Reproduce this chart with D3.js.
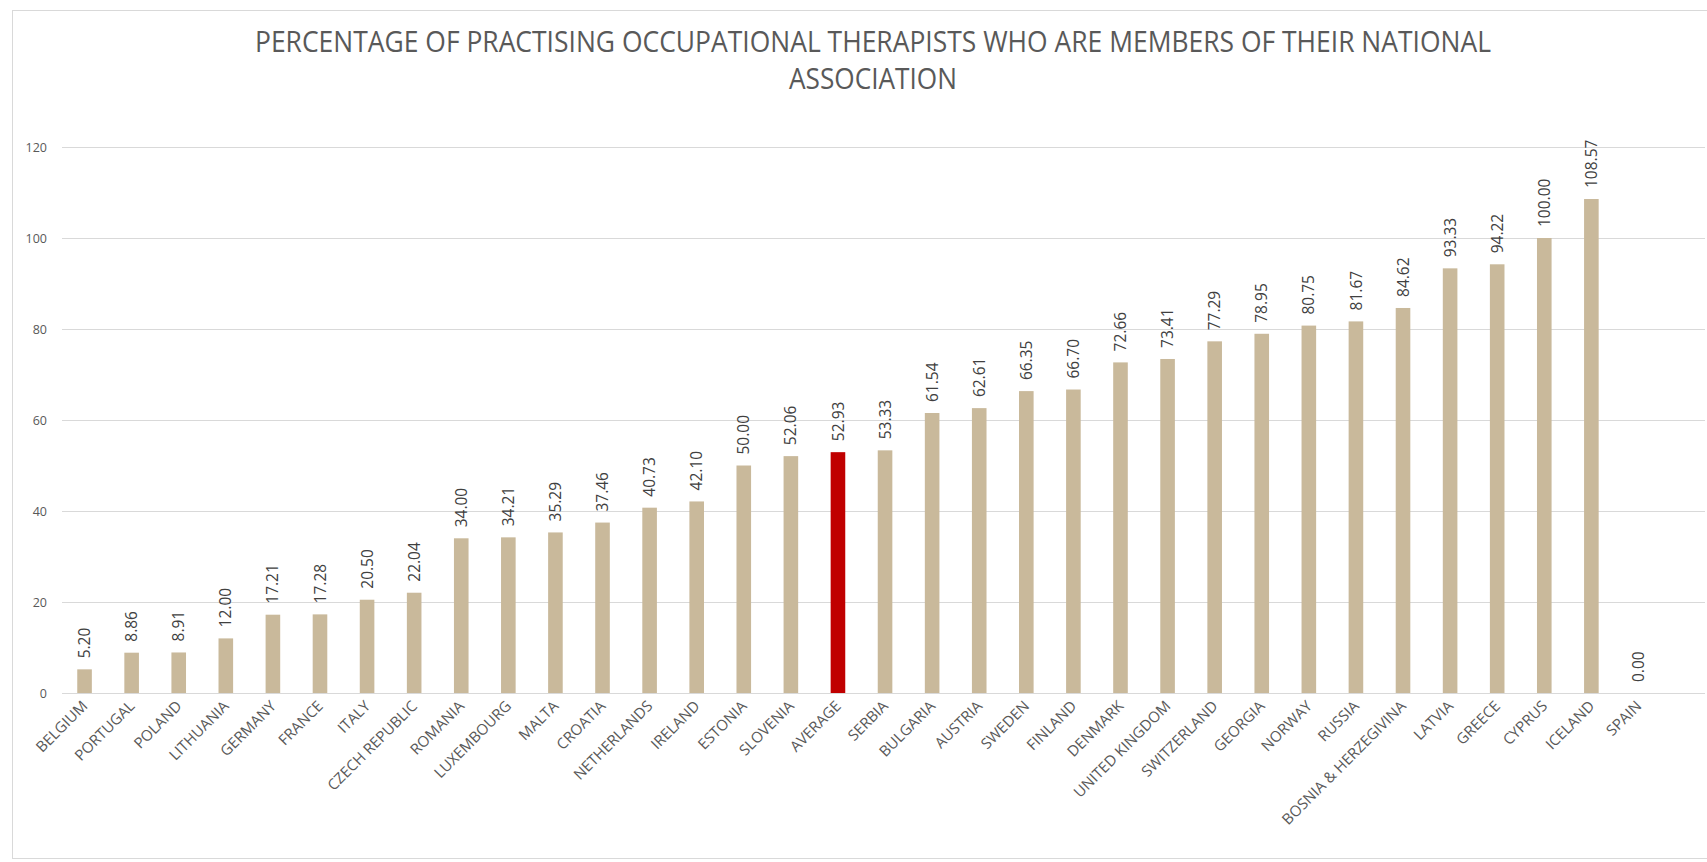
<!DOCTYPE html>
<html>
<head>
<meta charset="utf-8">
<script src="https://cdn.jsdelivr.net/npm/d3@7"></script>
<style>
  body { margin: 0; background: #fff; }
  svg text { font-family: "Open Sans", "Noto Sans", sans-serif; }
</style>
</head>
<body>
<svg id="chart" width="1707" height="862"></svg>
<script>
var countries = ['BELGIUM','PORTUGAL','POLAND','LITHUANIA','GERMANY','FRANCE','ITALY','CZECH REPUBLIC',
  'ROMANIA','LUXEMBOURG','MALTA','CROATIA','NETHERLANDS','IRELAND','ESTONIA','SLOVENIA','AVERAGE',
  'SERBIA','BULGARIA','AUSTRIA','SWEDEN','FINLAND','DENMARK','UNITED KINGDOM','SWITZERLAND','GEORGIA',
  'NORWAY','RUSSIA','BOSNIA & HERZEGIVINA','LATVIA','GREECE','CYPRUS','ICELAND','SPAIN']
var percents = [5.20,8.86,8.91,12.00,17.21,17.28,20.50,22.04,34.00,34.21,35.29,37.46,40.73,42.10,50.00,
  52.06,52.93,53.33,61.54,62.61,66.35,66.70,72.66,73.41,77.29,78.95,80.75,81.67,84.62,93.33,94.22,
  100.00,108.57,0.00]
var yTicks = [0,20,40,60,80,100,120]
var titleLines = ['PERCENTAGE OF PRACTISING OCCUPATIONAL THERAPISTS WHO ARE MEMBERS OF THEIR NATIONAL','ASSOCIATION']

var svg = d3.select('#chart')

// chart frame
svg.append('rect').attr('x',12.5).attr('y',10.5).attr('width',1720).attr('height',848)
  .attr('fill','none').attr('stroke','#d9d9d9')

var x = d3.scaleBand().domain(countries).range([61,1662]).paddingInner(0.69).paddingOuter(0.345)
var y = d3.scaleLinear().domain([0,120]).range([693,147])

// gridlines
svg.append('g').selectAll('line').data(yTicks).enter().append('line')
  .attr('x1',62).attr('x2',1705)
  .attr('y1',function(d){return y(d)+0.5}).attr('y2',function(d){return y(d)+0.5})
  .attr('stroke','#d9d9d9').attr('stroke-width',1)

// y axis labels
var yAxis = d3.axisLeft(y).tickValues(yTicks).tickSize(0).tickPadding(0)
svg.append('g').attr('transform','translate(47,0)').call(yAxis)
  .call(function(g){ g.select('.domain').remove() })
  .selectAll('text').attr('font-size',12.5).attr('fill','#595959')
  .style('font-family','"Open Sans", sans-serif')

// bars
var data = countries.map(function(c,i){ return {c:c, v:percents[i]} })
svg.append('g').selectAll('rect').data(data).enter().append('rect')
  .attr('x',function(d){return x(d.c)})
  .attr('width',x.bandwidth())
  .attr('y',function(d){return y(d.v)})
  .attr('height',function(d){return y(0)-y(d.v)})
  .attr('fill',function(d){return d.c == 'AVERAGE' ? '#c00000' : '#c9b99b'})

// value labels (rotated)
svg.append('g').selectAll('text').data(data).enter().append('text')
  .attr('transform',function(d){return 'translate(' + (x(d.c)+x.bandwidth()/2) + ',' + (y(d.v)-11) + ') rotate(-90)'})
  .attr('dy','0.36em')
  .attr('font-size',15.5).attr('fill','#404040')
  .text(function(d){return d.v.toFixed(2)})

// x axis labels
var xAxis = d3.axisBottom(x).tickSize(0).tickPadding(0)
svg.append('g').attr('transform','translate(0,' + y(0) + ')').call(xAxis)
  .call(function(g){ g.select('.domain').remove() })
  .selectAll('text')
  .attr('text-anchor','end').attr('dy',null).attr('y',0)
  .attr('transform','translate(4,14) rotate(-45)')
  .attr('font-size',15).attr('fill','#595959')
  .style('font-family','"Open Sans", sans-serif')

// title
svg.append('g').selectAll('text').data(titleLines).enter().append('text')
  .attr('x',873).attr('y',function(d,i){return 52 + i*37})
  .attr('text-anchor','middle')
  .attr('font-size',28.5).attr('fill','#595959')
  .attr('textLength',function(d,i){return i == 0 ? 1236 : 168})
  .attr('lengthAdjust','spacingAndGlyphs')
  .text(function(d){return d})
</script>
</body>
</html>
